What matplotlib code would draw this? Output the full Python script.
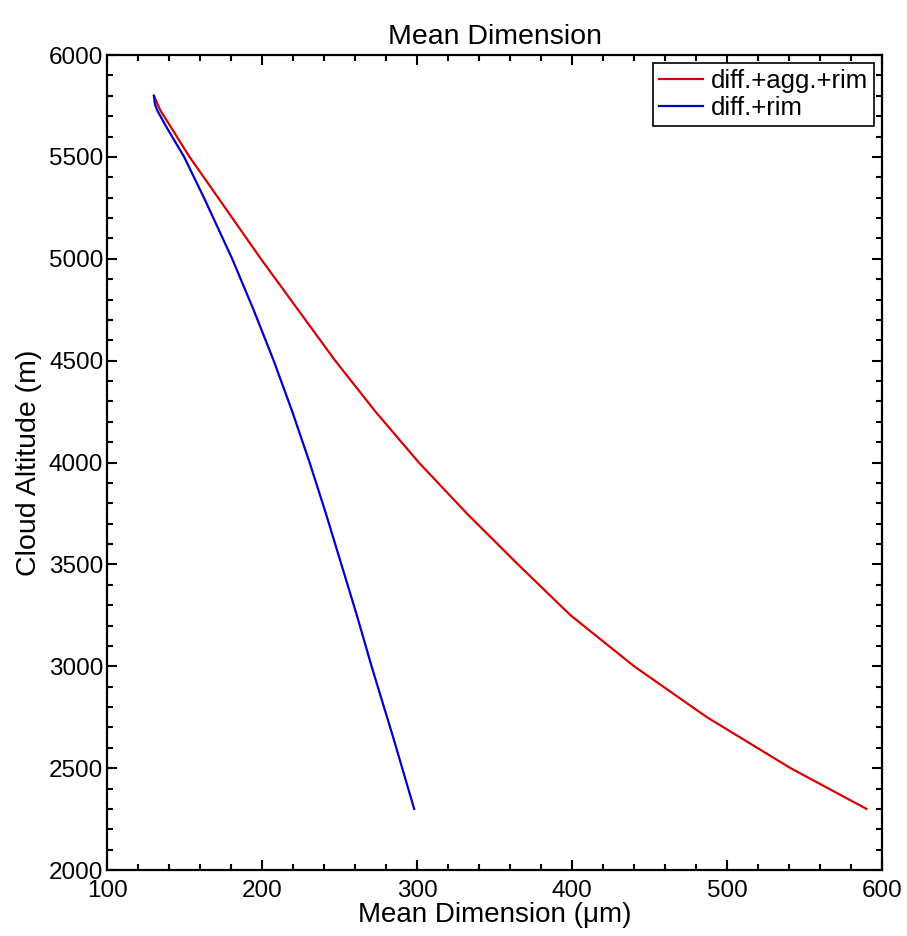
import numpy as np
import matplotlib
matplotlib.use('Agg')
import matplotlib.pyplot as plt
from matplotlib.ticker import MultipleLocator

plt.rcParams['font.family'] = ['Liberation Sans', 'DejaVu Sans']

# diff.+agg.+rim
red_y = [5800, 5730, 5700, 5500, 5250, 5000, 4750, 4500, 4250, 4000, 3750, 3500,
         3250, 3000, 2750, 2500, 2300]
red_x = [130, 134, 136.5, 153, 176, 199, 223, 247, 273, 301, 332, 365,
         399, 440, 487, 541, 590]

# diff.+rim
blue_y = [5800, 5760, 5730, 5650, 5500, 5288, 5000, 4750, 4500, 4250, 4000, 3750,
          3500, 3250, 3000, 2650, 2300]
blue_x = [130, 130.6, 132, 137.8, 149.5, 163, 180.5, 194.3, 207.3, 219.3, 230.5, 241,
          251, 261, 270.5, 284.5, 298]

labels = ['diff.+agg.+rim', 'diff.+rim']

fig = plt.figure(figsize=(9.07, 9.36), dpi=100)
ax = fig.add_axes([0.1185, 0.0705, 0.8539, 0.8707])

ax.plot(red_x, red_y, color='#d80000', lw=1.6, label=labels[0])
ax.plot(blue_x, blue_y, color='#0000cc', lw=1.6, label=labels[1])

ax.set_xlim(100, 600)
ax.set_ylim(2000, 6000)
ax.xaxis.set_major_locator(MultipleLocator(100))
ax.xaxis.set_minor_locator(MultipleLocator(20))
ax.yaxis.set_major_locator(MultipleLocator(500))
ax.yaxis.set_minor_locator(MultipleLocator(100))
ax.tick_params(which='both', direction='in', top=True, right=True, width=1.5, labelsize=17.5)
ax.tick_params(which='major', length=7)
ax.tick_params(which='minor', length=4)
ax.tick_params(axis='x', which='major', pad=7)
ax.tick_params(axis='y', which='major', pad=3)
for s in ax.spines.values():
    s.set_linewidth(1.6)

ax.set_xlabel('Mean Dimension (\u03bcm)', fontsize=20, labelpad=0)
ax.set_ylabel('Cloud Altitude (m)', fontsize=20.5, labelpad=5)
ax.set_title('Mean Dimension', fontsize=20.5, pad=8)

leg = ax.legend(loc='upper right', fontsize=18.5, fancybox=False, edgecolor='black',
                framealpha=1, handlelength=1.7, borderaxespad=0.3, borderpad=0.25,
                labelspacing=0.1, handletextpad=0.3)
leg.get_frame().set_linewidth(1.2)

fig.savefig('out.png', dpi=100)
